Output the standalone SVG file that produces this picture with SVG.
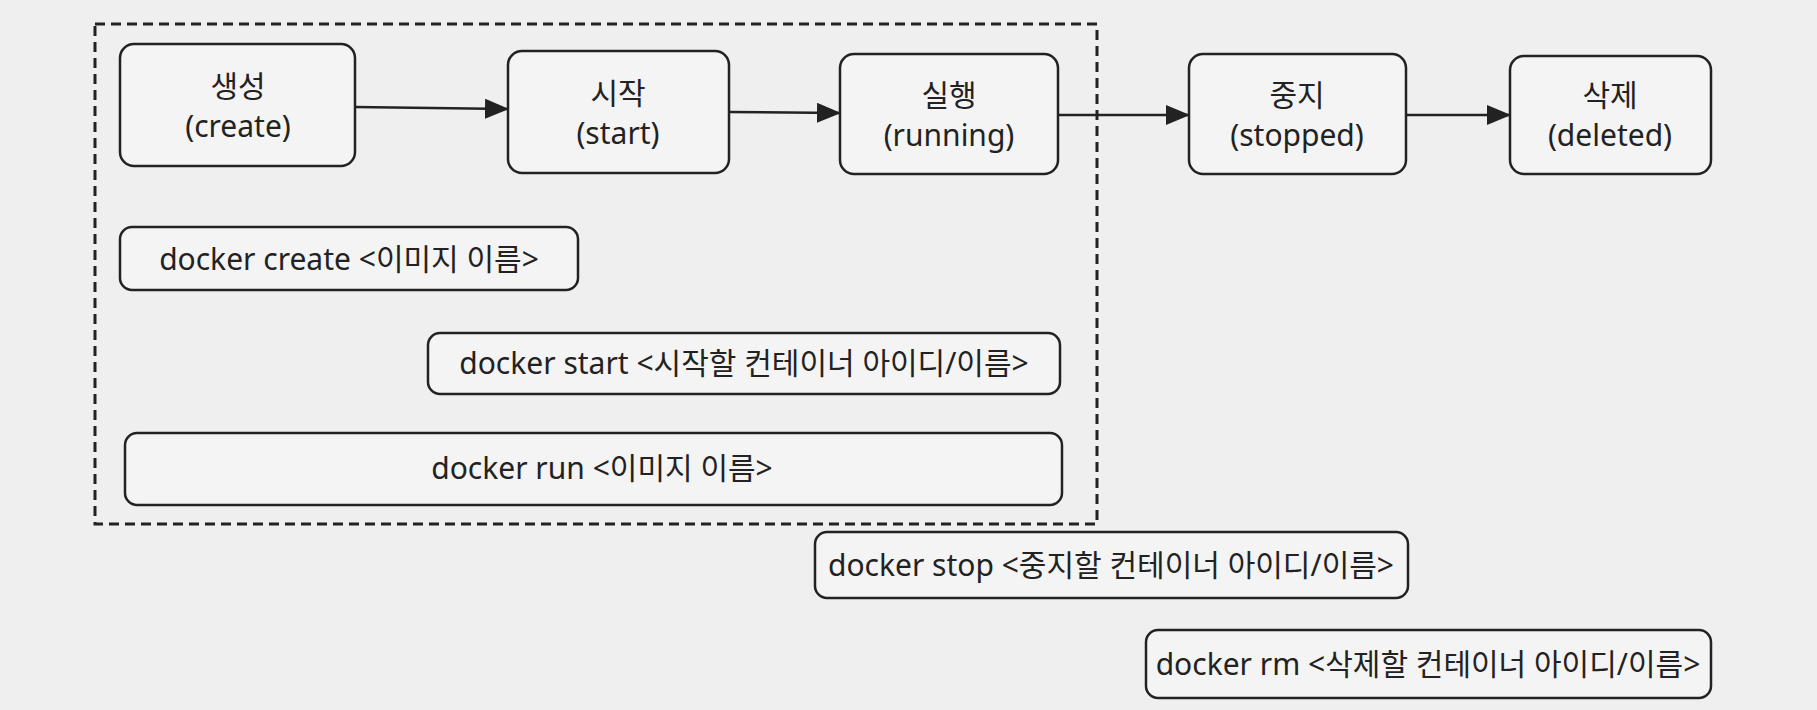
<svg xmlns="http://www.w3.org/2000/svg" width="1817" height="710" viewBox="0 0 1817 710">
<style>
.b{fill:#f4f4f4;stroke:#222;stroke-width:2.5}
.t{font-family:"Noto Sans","Noto Sans CJK KR",sans-serif;font-size:30px;fill:#222;text-anchor:middle}
.c{stroke:#222;stroke-width:2.5;fill:none}
</style>
<defs><marker id="ah" markerWidth="24" markerHeight="20" refX="23" refY="10" orient="auto" markerUnits="userSpaceOnUse"><path d="M0,0L24,10L0,20z" fill="#222"/></marker></defs>
<rect width="1817" height="710" fill="#efefef"/>
<rect id="group" x="95" y="24" width="1002" height="500" fill="none" stroke="#222" stroke-width="3" stroke-dasharray="10,6"/>
<g id="connectors">
<line class="c" x1="355" y1="107" x2="508" y2="109" marker-end="url(#ah)"/>
<line class="c" x1="729" y1="112" x2="840" y2="113" marker-end="url(#ah)"/>
<line class="c" x1="1058" y1="115" x2="1189" y2="115" marker-end="url(#ah)"/>
<line class="c" x1="1406" y1="115" x2="1510" y2="115" marker-end="url(#ah)"/>
</g>
<g id="create"><rect class="b" x="120" y="44" width="235" height="122" rx="14"/><text class="t" x="238" y="97">생성</text><text class="t" x="238" y="137">(create)</text></g>
<g id="start"><rect class="b" x="508" y="51" width="221" height="122" rx="14"/><text class="t" x="618" y="104">시작</text><text class="t" x="618" y="144">(start)</text></g>
<g id="running"><rect class="b" x="840" y="54" width="218" height="120" rx="14"/><text class="t" x="949" y="106">실행</text><text class="t" x="949" y="146">(running)</text></g>
<g id="stopped"><rect class="b" x="1189" y="54" width="217" height="120" rx="14"/><text class="t" x="1297" y="106">중지</text><text class="t" x="1297" y="146">(stopped)</text></g>
<g id="deleted"><rect class="b" x="1510" y="56" width="201" height="118" rx="14"/><text class="t" x="1610" y="106">삭제</text><text class="t" x="1610" y="146">(deleted)</text></g>
<g id="cmd-create"><rect class="b" x="120" y="227" width="458" height="63" rx="12"/><text class="t" x="349" y="270">docker create &lt;이미지 이름&gt;</text></g>
<g id="cmd-start"><rect class="b" x="428" y="333" width="632" height="61" rx="12"/><text class="t" x="744" y="374">docker start &lt;시작할 컨테이너 아이디/이름&gt;</text></g>
<g id="cmd-run"><rect class="b" x="125" y="433" width="937" height="72" rx="12"/><text class="t" x="602" y="479">docker run &lt;이미지 이름&gt;</text></g>
<g id="cmd-stop"><rect class="b" x="815" y="532" width="593" height="66" rx="12"/><text class="t" x="1111" y="576">docker stop &lt;중지할 컨테이너 아이디/이름&gt;</text></g>
<g id="cmd-rm"><rect class="b" x="1146" y="630" width="565" height="68" rx="12"/><text class="t" x="1428" y="675">docker rm &lt;삭제할 컨테이너 아이디/이름&gt;</text></g>
</svg>
